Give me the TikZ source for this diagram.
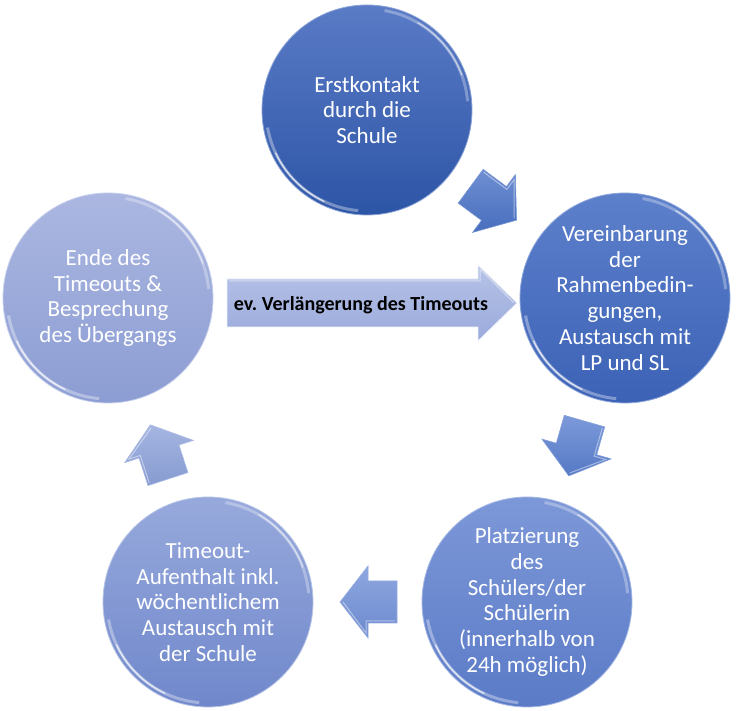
\documentclass[tikz,border=0pt]{standalone}
\usepackage{fontspec}
\setmainfont{Carlito}
\usetikzlibrary{calc}
\definecolor{cAt}{HTML}{5A7BC6}\definecolor{cAm}{HTML}{3F64B6}\definecolor{cAb}{HTML}{2D55A6}
\definecolor{cBt}{HTML}{5D80CB}\definecolor{cBm}{HTML}{4A70C2}\definecolor{cBb}{HTML}{3C62B6}
\definecolor{cCt}{HTML}{7D98D8}\definecolor{cCm}{HTML}{6B8AD0}\definecolor{cCb}{HTML}{5B7BC7}
\definecolor{cDt}{HTML}{97A9DC}\definecolor{cDm}{HTML}{8499D4}\definecolor{cDb}{HTML}{7088CB}
\definecolor{cEt}{HTML}{ABB7E1}\definecolor{cEm}{HTML}{9DACDA}\definecolor{cEb}{HTML}{8C9DD3}
\definecolor{aA}{HTML}{4B73C7}\definecolor{aB}{HTML}{5B80D0}\definecolor{aC}{HTML}{7291D8}\definecolor{aD}{HTML}{8EA3DB}
\definecolor{hT}{HTML}{B6C2E7}\definecolor{hB}{HTML}{9AAADB}
\newcommand\glossrim[1]{%
  \draw[white, opacity=.35, line width=3pt] ($(#1.center)+(190:101)$) arc[start angle=190, end angle=265, radius=101];
  \draw[white, opacity=.75, line width=1.3pt] ($(#1.center)+(205:101)$) arc[start angle=205, end angle=245, radius=101];
  \draw[white, opacity=.30, line width=3pt] ($(#1.center)+(5:101)$) arc[start angle=5, end angle=80, radius=101];
  \draw[white, opacity=.55, line width=1.2pt] ($(#1.center)+(20:101)$) arc[start angle=20, end angle=60, radius=101];
}
\newcommand\blockarrow[3]{%
  \begin{scope}[shift={#1}, rotate=#2]
    \path[blockarr=#3] (-29,-21) -- (0,-21) -- (0,-36) -- (28,0) -- (0,36) -- (0,21) -- (-29,21) -- cycle;
    \draw[white, opacity=.45, line width=1pt] (-27,19) -- (2,19) -- (2,31) -- (25,0);
  \end{scope}}
\begin{document}
\frenchspacing
\begin{tikzpicture}[x=1pt,y=1pt,
  stage/.style n args={3}{circle, minimum size=210pt, inner sep=0pt, align=center, text=white,
    font=\fontsize{23}{25.8}\selectfont, top color=#1, middle color=#2, bottom color=#3,
    draw=#1!70!white, line width=0.8pt},
  blockarr/.style={top color=#1!80!white, bottom color=#1!95!black, draw=#1!75!white, line width=0.6pt},
  extarrow/.style={top color=hT, bottom color=hB, draw=white!85!hB, line width=0.8pt},
  extlabel/.style={font=\bfseries\fontsize{20}{22}\selectfont, text=black, inner sep=0pt}
]
\useasboundingbox[fill=white] (0,0) rectangle (736,711);

\node[stage={cAt}{cAm}{cAb}] (c1) at (367,601) {Erstkontakt\\durch die\\Schule};
\node[stage={cBt}{cBm}{cBb}] (c2) at (625,413) {Vereinbarung\\der\\Rahmenbedin-\\gungen,\\Austausch mit\\LP und SL};
\node[stage={cCt}{cCm}{cCb}] (c3) at (527,109) {Platzierung\\des\\Schülers/der\\Schülerin\\(innerhalb von\\24h möglich)};
\node[stage={cDt}{cDm}{cDb}] (c4) at (208,109) {Timeout-\\Aufenthalt inkl.\\wöchentlichem\\Austausch mit\\der Schule};
\node[stage={cEt}{cEm}{cEb}] (c5) at (108,413) {Ende des\\Timeouts \&\\Besprechung\\des Übergangs};

\glossrim{c1}\glossrim{c2}\glossrim{c3}\glossrim{c4}\glossrim{c5}

\blockarrow{(494,507.5)}{-36.5}{aA}
\blockarrow{(576.5,262)}{-106}{aB}
\blockarrow{(368,109)}{180}{aC}
\blockarrow{(159,259.5)}{108}{aD}

\path[extarrow] (227,384) -- (478,384) -- (478,370) -- (517,408) -- (478,446) -- (478,432) -- (227,432) -- cycle;
\draw[white, opacity=.5, line width=1pt] (229,430) -- (480,430) -- (480,442) -- (514,408);
\node[extlabel] (ext) at (361,406) {ev. Verlängerung des Timeouts};
\end{tikzpicture}
\end{document}
